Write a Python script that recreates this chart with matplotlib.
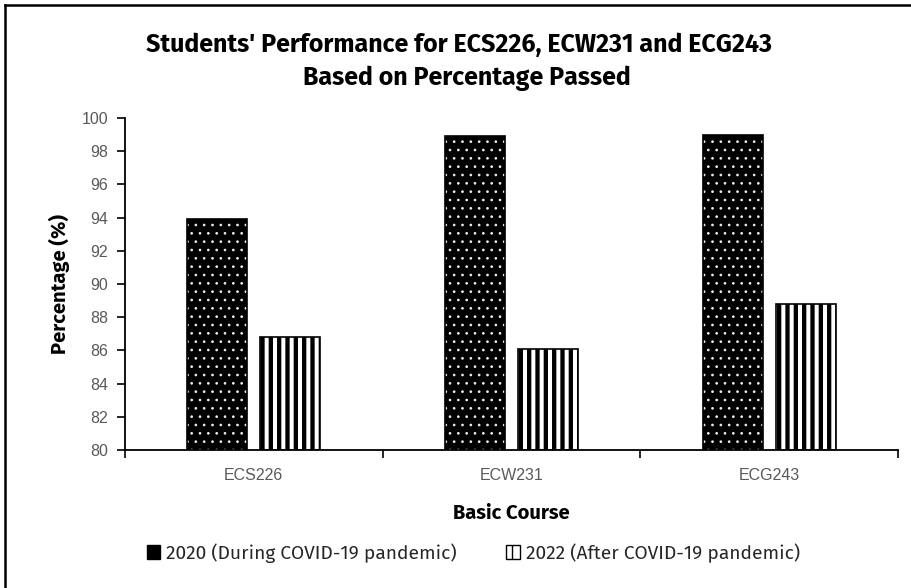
import matplotlib
matplotlib.use("Agg")
import matplotlib.pyplot as plt
import numpy as np
from matplotlib.lines import Line2D
from matplotlib.patches import Patch
from matplotlib import font_manager as fm

courses = ["ECS226", "ECW231", "ECG243"]
pct_2020 = [93.9, 98.9, 99.0]
pct_2022 = [86.8, 86.1, 88.8]
series_labels = ["2020 (During COVID-19 pandemic)", "2022 (After COVID-19 pandemic)"]
y_ticks = [80, 82, 84, 86, 88, 90, 92, 94, 96, 98, 100]

faces = {}
for f in fm.fontManager.ttflist:
    w = f.weight if isinstance(f.weight, int) else 400
    faces.setdefault(f.name, set()).add(w)


def pick(names, need_bold=False):
    for n in names:
        if n in faces and (not need_bold or max(faces[n]) >= 600):
            return n
    return "DejaVu Sans"


head_font = pick(["Fira Sans", "Fira Sans Condensed", "Roboto", "Liberation Sans"],
                 need_bold=True)
legend_font = pick(["Fira Sans", "Fira Sans Condensed", "Roboto", "Liberation Sans"])
plain = pick(["Liberation Sans", "Arimo"])

fig = plt.figure(figsize=(9.12, 5.88), dpi=100)
ax = fig.add_axes([125 / 912, 1 - 450 / 588, 773 / 912, 332 / 588])

x = np.arange(len(courses)) + 0.5
width = 0.233
off = 0.142


def hatched_bars(xs, vals, face, hatch, hcolor, hlw):
    heights = np.array(vals) - 80
    base = ax.bar(xs, heights, width, bottom=80, color=face,
                  edgecolor="none", linewidth=0, zorder=2)
    with plt.rc_context({"hatch.linewidth": hlw}):
        over = ax.bar(xs, heights, width, bottom=80, color="none",
                      edgecolor=hcolor, hatch=hatch, linewidth=0, zorder=3)
    for p in over:
        p.set_hatch_linewidth(hlw)
    ax.bar(xs, heights, width, bottom=80, color="none",
           edgecolor="black", linewidth=1.2, zorder=4)
    return base


hatched_bars(x - off, pct_2020, "black", "..", "#f0f0f0", 0.7)
hatched_bars(x + off, pct_2022, "white", "||", "black", 3.1)

ax.set_xlim(0, 3)
ax.set_ylim(80, 100)
ax.set_yticks(y_ticks)
ax.set_yticklabels([str(v) for v in y_ticks], fontsize=11.5, color="#595959",
                   family=plain)
ax.set_xticks([0, 1, 2, 3])
ax.set_xticklabels([])
ax.set_xticks(x, minor=True)
ax.set_xticklabels(courses, minor=True, fontsize=11.5, color="#595959",
                   family=plain)
ax.tick_params(axis="x", which="major", direction="out", length=6, width=1.2,
               color="black")
ax.tick_params(axis="x", which="minor", length=0, pad=13)
ax.tick_params(axis="y", direction="out", length=6, width=1.2, color="black",
               pad=6)

for s in ["top", "right"]:
    ax.spines[s].set_visible(False)
for s in ["left", "bottom"]:
    ax.spines[s].set_linewidth(1.3)
    ax.spines[s].set_color("black")

ax.set_ylabel("Percentage (%)", fontsize=14.5, fontweight="bold",
              family=head_font, labelpad=8)
ax.set_xlabel("Basic Course", fontsize=14.5, fontweight="bold",
              family=head_font, labelpad=15)

fig.text(0.503, 1 - 45 / 588, "Students' Performance for ECS226, ECW231 and ECG243",
         ha="center", va="center", fontsize=18, fontweight="bold",
         family=head_font)
fig.text(0.512, 1 - 78 / 588, "Based on Percentage Passed",
         ha="center", va="center", fontsize=18, fontweight="bold",
         family=head_font)

h1 = Patch(facecolor="black", edgecolor="black")
with plt.rc_context({"hatch.linewidth": 1.5}):
    h2 = Patch(facecolor="white", edgecolor="black", hatch="||")
leg = fig.legend([h1, h2], series_labels, loc="center", ncol=2,
                 bbox_to_anchor=(0.519, 1 - 553 / 588), frameon=False,
                 handlelength=0.7, handleheight=0.7, handletextpad=0.3,
                 columnspacing=2.6, prop={"family": legend_font, "size": 13.8})
for t in leg.get_texts():
    t.set_color("#262626")

# chart-area border (top and left edges)
fig.add_artist(Line2D([5 / 912, 5 / 912], [0, 1 - 5 / 588], color="black",
                      linewidth=1.8, transform=fig.transFigure))
fig.add_artist(Line2D([5 / 912, 1], [1 - 5 / 588, 1 - 5 / 588], color="black",
                      linewidth=1.8, transform=fig.transFigure))

fig.savefig("out.png", dpi=100)
